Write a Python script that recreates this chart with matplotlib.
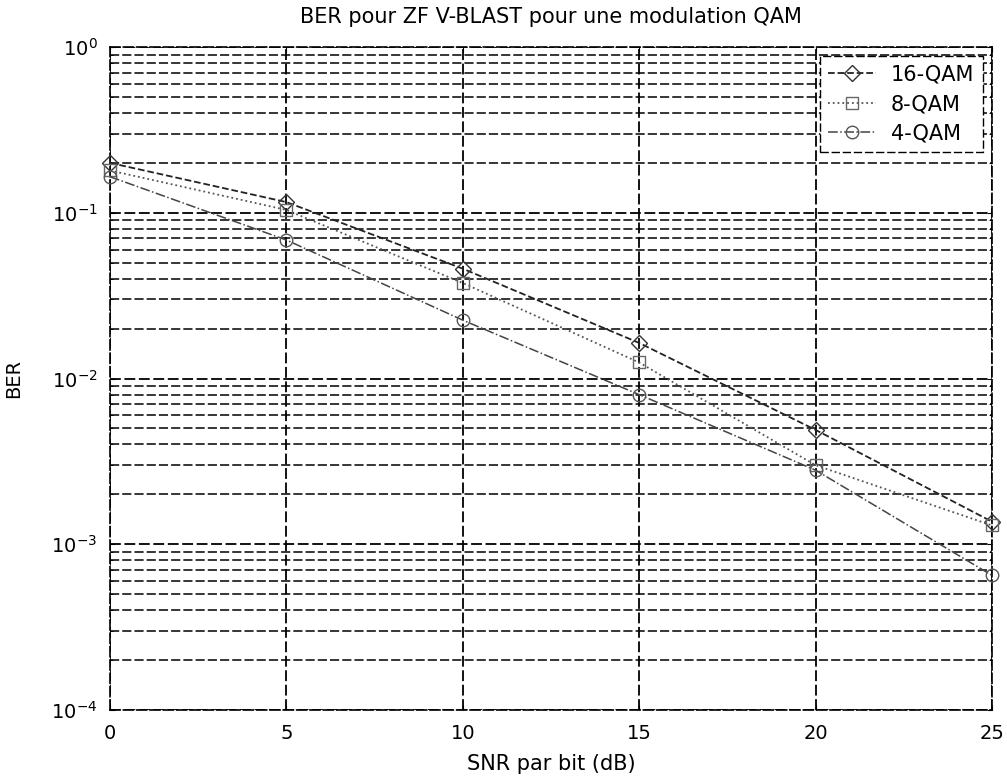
import matplotlib
matplotlib.use("Agg")
import matplotlib.pyplot as plt
import numpy as np
from matplotlib.ticker import LogLocator, NullFormatter

# SNR par bit (dB)
snr = [0, 5, 10, 15, 20, 25]

# BER
ber_16qam = [0.20, 0.116, 0.046, 0.0164, 0.0049, 0.00137]
ber_8qam = [0.18, 0.104, 0.0377, 0.0125, 0.0030, 0.0013]
ber_4qam = [0.165, 0.0685, 0.0225, 0.0080, 0.0028, 0.00065]

plt.rcParams['font.family'] = ['DejaVu Sans']
plt.rcParams['mathtext.default'] = 'regular'

fig = plt.figure(figsize=(10.07, 7.77), dpi=100)
ax = fig.add_axes([0.1092, 0.0862, 0.8758, 0.8533])

ax.semilogy(snr, ber_16qam, linestyle='--', color='#222222', lw=1.3,
            marker='D', markersize=8, markerfacecolor='none', mew=1.0,
            markeredgecolor='#333333', label='16-QAM', clip_on=False, zorder=3)
ax.semilogy(snr, ber_8qam, linestyle=':', color='#555555', lw=1.3,
            marker='s', markersize=9, markerfacecolor='none', mew=1.0,
            markeredgecolor='#666666', label='8-QAM', clip_on=False, zorder=3)
ax.semilogy(snr, ber_4qam, linestyle='-.', color='#444444', lw=1.1,
            marker='o', markersize=9, markerfacecolor='none', mew=1.0,
            markeredgecolor='#555555', label='4-QAM', clip_on=False, zorder=3)

ax.set_xlim(0, 25)
ax.set_ylim(1e-4, 1)
ax.set_xticks([0, 5, 10, 15, 20, 25])
ax.yaxis.set_major_locator(LogLocator(base=10, numticks=10))
ax.yaxis.set_minor_locator(LogLocator(base=10, subs=np.arange(2, 10), numticks=10))
ax.yaxis.set_minor_formatter(NullFormatter())

# grille type MATLAB (grid on + minor)
ax.grid(True, which='major', axis='both', color='black',
        linestyle=(0, (6, 2)), lw=1.3)
ax.grid(True, which='minor', axis='y', color='black',
        linestyle=(0, (6, 2)), lw=1.1)

ax.tick_params(axis='both', which='both', direction='in', labelsize=14,
               top=True, right=True)
ax.tick_params(axis='y', which='major', pad=9)
ax.tick_params(axis='x', which='major', pad=10)
for s in ax.spines.values():
    s.set_linestyle((0, (6, 2)))
    s.set_linewidth(1.2)

ax.set_title('BER pour ZF V-BLAST pour une modulation QAM', fontsize=15, pad=17)
ax.set_xlabel('SNR par bit (dB)', fontsize=15, labelpad=8)
ax.set_ylabel('BER', fontsize=14, labelpad=20)

leg = ax.legend(loc='upper right', fontsize=15, fancybox=False,
                framealpha=1, edgecolor='black', handlelength=2.3,
                handletextpad=0.7, labelspacing=0.45, borderaxespad=0.45)
leg.get_frame().set_linestyle((0, (6, 2)))

fig.savefig('out.png', dpi=100)
